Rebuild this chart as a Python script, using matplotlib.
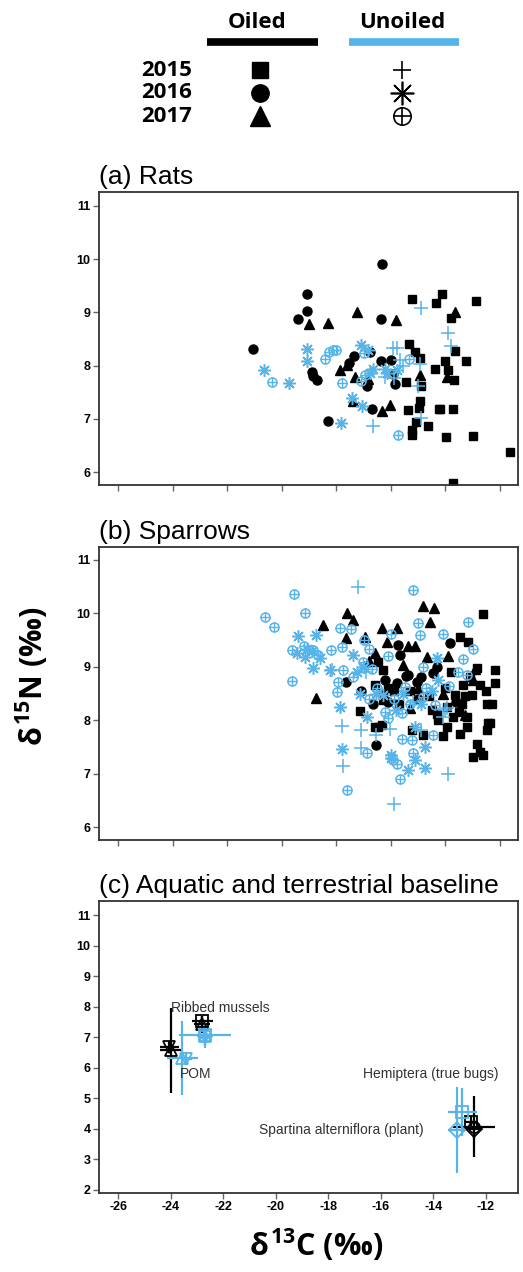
import numpy as np
import matplotlib.pyplot as plt

plt.rcParams['font.family'] = ['Liberation Sans', 'DejaVu Sans']
plt.rcParams['mathtext.fontset'] = 'custom'
plt.rcParams['mathtext.rm'] = 'Open Sans:bold'
plt.rcParams['mathtext.it'] = 'Open Sans:bold'
plt.rcParams['mathtext.bf'] = 'Open Sans:bold'

oil_col = 'black'
unoil_col = '#56B4E9'

# ---- (a) Rats ----
rats_oil15_x = [-15.22, -14.12, -14.33, -12.88, -13.81, -15.35, -15.12, -14.94, -13.65, -13.25,
                -14.02, -14.39, -13.90, -13.68, -15.43, -14.88, -14.94, -14.97, -15.38, -14.24,
                -13.74, -15.09, -14.63, -15.24, -15.24, -13.99, -12.98, -11.64, -13.71, -14.20]
rats_oil15_y = [9.26, 9.34, 9.17, 9.22, 8.89, 8.41, 8.26, 8.14, 8.28, 8.08,
                8.08, 7.94, 7.92, 7.74, 7.70, 7.61, 7.34, 7.20, 7.16, 7.19,
                7.19, 6.95, 6.87, 6.79, 6.70, 6.67, 6.68, 6.38, 5.79, 7.18]
rats_oil16_x = [-21.07, -19.06, -19.06, -19.39, -16.31, -16.37, -18.91, -18.85, -18.70, -18.32,
                -16.68, -16.88, -16.37, -15.98, -15.85, -17.35, -17.55, -16.75, -15.92]
rats_oil16_y = [8.31, 9.34, 9.03, 8.88, 9.91, 8.88, 7.88, 7.80, 7.74, 6.96,
                7.19, 7.62, 8.08, 8.11, 7.65, 8.18, 8.05, 8.25, 7.84]
rats_oil17_x = [-19.00, -18.29, -17.26, -15.82, -13.65, -17.32, -16.04, -16.34, -14.94, -17.87,
                -13.96, -17.38, -17.60, -16.85]
rats_oil17_y = [8.78, 8.81, 9.01, 8.86, 9.01, 7.79, 7.26, 7.14, 7.83, 7.92,
                7.79, 7.33, 8.02, 7.75]
rats_un15_x = [-14.88, -13.90, -13.78, -15.91, -15.77, -15.67, -14.94, -15.00, -14.88, -16.67,
               -16.22, -15.90, -15.55]
rats_un15_y = [9.09, 8.61, 8.36, 8.33, 8.33, 8.11, 8.03, 7.61, 7.01, 6.87,
               7.79, 7.76, 8.00]
rats_un16_x = [-20.66, -19.75, -19.06, -19.06, -17.83, -17.41, -17.05, -17.08, -16.77, -16.65,
               -16.22, -16.16, -15.79, -16.83]
rats_un16_y = [7.92, 7.68, 8.31, 8.08, 6.92, 7.39, 7.25, 8.39, 7.86, 7.94,
               7.94, 7.86, 7.92, 8.29]
rats_un17_x = [-20.35, -18.40, -18.26, -18.12, -18.00, -17.81, -17.00, -17.08, -15.33, -15.73,
               -16.96]
rats_un17_y = [7.69, 8.12, 8.25, 8.29, 8.29, 7.67, 8.23, 7.72, 8.12, 6.69,
               7.82]

# ---- (b) Sparrows ----
spar_oil15_x = [-12.61, -13.47, -13.16, -12.86, -12.19, -12.19, -12.74, -13.10, -13.35, -13.65,
                -13.04, -12.49, -13.41, -13.96, -13.71, -13.22, -14.26, -13.96, -13.22, -12.43,
                -12.49, -13.47, -12.86, -12.74, -12.98, -12.61, -16.59, -16.34, -15.24, -14.81,
                -14.32, -16.28, -16.46, -16.28, -17.14, -16.47, -16.10, -15.70, -15.30, -14.60,
                -14.00, -13.80, -12.50, -12.30, -13.50, -14.10, -12.35, -16.60, -16.30, -15.90,
                -14.50, -13.30]
spar_oil15_y = [9.99, 9.56, 9.47, 8.97, 8.94, 8.69, 8.66, 8.81, 8.66, 8.47,
                8.47, 8.31, 8.31, 8.25, 8.06, 8.06, 8.00, 7.88, 7.88, 7.94,
                7.81, 7.75, 7.56, 7.41, 7.31, 7.35, 7.88, 7.91, 7.81, 7.72,
                8.12, 8.94, 9.09, 8.37, 8.18, 7.88, 8.60, 8.30, 8.55, 8.45,
                8.60, 8.90, 8.55, 8.30, 8.15, 7.70, 7.95, 8.65, 8.50, 8.55,
                8.20, 8.45]
spar_oil16_x = [-17.63, -16.53, -15.73, -15.67, -15.43, -15.79, -13.84, -14.45, -15.36, -14.88,
                -15.06, -16.10, -16.65, -17.10, -16.20, -15.00, -14.30, -13.60]
spar_oil16_y = [8.72, 7.54, 9.41, 9.22, 8.83, 8.70, 9.45, 8.89, 8.84, 8.81,
                8.72, 8.34, 8.31, 8.55, 8.75, 8.40, 9.00, 8.35]
spar_oil17_x = [-18.48, -17.60, -17.38, -17.63, -18.73, -14.81, -14.42, -14.55, -16.34, -15.79,
                -16.16, -15.36, -15.12, -16.59, -16.95, -15.55, -14.69, -13.90, -13.29, -15.30,
                -12.90, -15.00, -16.80, -14.10, -13.00]
spar_oil17_y = [9.78, 10.01, 9.88, 9.53, 8.41, 10.14, 10.09, 9.84, 9.73, 9.73,
                9.47, 9.38, 9.38, 9.25, 9.56, 9.04, 9.18, 9.20, 8.09, 8.22,
                8.95, 8.60, 9.10, 8.50, 8.75]
spar_un15_x = [-17.20, -17.81, -17.08, -17.08, -17.75, -15.88, -13.92, -16.53, -16.04, -14.02,
               -14.08, -14.88, -18.17, -16.90, -15.20, -13.96]
spar_un15_y = [10.50, 7.89, 7.81, 7.49, 7.14, 6.44, 6.99, 7.72, 7.84, 8.19,
               8.06, 7.81, 8.94, 8.90, 8.35, 8.22]
spar_un16_x = [-19.42, -18.75, -19.09, -18.85, -19.15, -18.60, -18.24, -17.87, -17.81, -17.38,
               -17.26, -17.14, -16.89, -14.32, -14.26, -16.28, -15.12, -14.75, -15.98, -15.36,
               -14.75, -15.12, -15.55, -16.53, -19.44, -18.90, -17.00, -15.80, -14.90, -14.50,
               -16.00]
spar_un16_y = [9.58, 9.59, 9.34, 8.98, 9.19, 9.16, 8.94, 8.25, 7.47, 9.22,
               8.91, 8.50, 8.06, 9.16, 8.75, 8.47, 7.88, 7.50, 7.35, 7.07,
               7.10, 7.25, 8.50, 8.50, 9.25, 9.30, 9.00, 8.20, 8.30, 8.55,
               7.30]
spar_un17_x = [-20.60, -20.29, -19.54, -19.15, -19.64, -19.19, -19.64, -17.87, -17.47, -18.21,
               -17.81, -18.66, -18.85, -17.75, -17.93, -17.97, -16.99, -16.81, -17.01, -17.38,
               -16.89, -17.62, -15.18, -15.00, -14.94, -14.10, -13.16, -13.00, -13.37, -13.53,
               -13.22, -13.86, -15.98, -16.10, -14.81, -15.49, -14.81, -14.39, -16.22, -15.61,
               -14.45, -15.24, -15.18, -15.91, -15.79, -15.67, -16.70, -16.50, -16.10, -15.30,
               -14.70, -16.80, -15.90, -15.60]
spar_un17_y = [9.94, 9.75, 10.37, 10.00, 9.32, 9.39, 8.74, 9.72, 9.71, 9.31,
               9.37, 9.22, 9.31, 8.94, 8.72, 8.53, 9.50, 9.34, 9.09, 8.81,
               7.38, 6.70, 10.44, 9.81, 9.59, 9.61, 9.84, 9.33, 9.14, 8.91,
               8.84, 8.64, 9.62, 9.20, 9.00, 8.63, 8.44, 8.28, 8.16, 8.13,
               7.72, 7.63, 7.38, 7.25, 7.19, 6.91, 8.95, 8.60, 8.05, 8.30,
               8.60, 8.40, 8.40, 7.65]

# ---- (c) baselines: mean, sd ----
base_x    = [-24.00, -24.05, -23.55, -23.40, -22.80, -22.80, -22.70, -22.70, -22.70,
             -12.55, -12.45, -12.45, -12.90, -13.10]
base_y    = [6.57, 6.68, 6.32, 6.30, 7.52, 7.43, 7.07, 7.05, 7.00,
             4.22, 4.07, 3.98, 4.55, 3.97]
base_xerr = [0.42, 0.35, 0.60, 0.20, 0.40, 0.30, 1.00, 0.30, 0.25,
             0.25, 0.80, 0.30, 0.55, 0.35]
base_yerr = [1.39, 0.20, 1.22, 0.20, 0.18, 0.28, 0.42, 0.30, 0.25,
             0.20, 1.00, 0.30, 0.78, 1.40]
base_oiled = [1, 1, 0, 0, 1, 1, 0, 0, 0, 1, 1, 1, 0, 0]
base_mark = ['^', 'v', '^', 'v', 's', '^', 's', '^', 'v', 's', 'o', 'D', 's', 'D']

base_labels = ['Ribbed mussels', 'POM', 'Hemiptera (true bugs)', 'Spartina alterniflora (plant)']
base_lab_x = [-23.99, -23.65, -16.66, -20.65]
base_lab_y = [7.97, 5.80, 5.78, 3.97]

fig = plt.figure(figsize=(5.23, 12.72), dpi=100)
W, H = 523.0, 1272.0
ax_a = fig.add_axes([99 / W, 1 - 485 / H, 419 / W, 293 / H])
ax_b = fig.add_axes([99 / W, 1 - 840 / H, 419 / W, 293 / H])
ax_c = fig.add_axes([99 / W, 1 - 1193 / H, 419 / W, 292 / H])

xt = np.arange(-26, -11, 2)


def style(ax, title, ylim, yticks, xlim, show_x):
    ax.set_xlim(*xlim)
    ax.set_ylim(*ylim)
    ax.set_xticks(xt)
    ax.set_yticks(yticks)
    ax.set_yticklabels([str(t) for t in yticks], fontweight='bold')
    ax.set_xticklabels([str(t) for t in xt], fontweight='bold')
    ax.tick_params(direction='out', length=4, width=1, color='#666666',
                   labelsize=9, pad=2, labelbottom=show_x)
    for s in ax.spines.values():
        s.set_color('#333333')
        s.set_linewidth(1.3)
    ax.set_title(title, loc='left', fontsize=19, pad=6)


def scatter_panel(ax, o15, o16, o17, u15, u16, u17):
    ax.plot(o15[0], o15[1], ls='', marker='s', ms=6, color=oil_col, mec=oil_col)
    ax.plot(o16[0], o16[1], ls='', marker='o', ms=6.5, color=oil_col, mec=oil_col)
    ax.plot(o17[0], o17[1], ls='', marker='^', ms=7, color=oil_col, mec=oil_col)
    ax.plot(u15[0], u15[1], ls='', marker='+', ms=10, mew=1.1, color=unoil_col)
    ax.plot(u16[0], u16[1], ls='', marker=(8, 2, 0), ms=9, mew=1.1, color=unoil_col)
    ax.plot(u17[0], u17[1], ls='', marker='o', ms=6.5, mfc='none', mew=1.1, color=unoil_col)
    ax.plot(u17[0], u17[1], ls='', marker='+', ms=6.5, mew=1.0, color=unoil_col)


scatter_panel(ax_a, (rats_oil15_x, rats_oil15_y), (rats_oil16_x, rats_oil16_y),
              (rats_oil17_x, rats_oil17_y), (rats_un15_x, rats_un15_y),
              (rats_un16_x, rats_un16_y), (rats_un17_x, rats_un17_y))
scatter_panel(ax_b, (spar_oil15_x, spar_oil15_y), (spar_oil16_x, spar_oil16_y),
              (spar_oil17_x, spar_oil17_y), (spar_un15_x, spar_un15_y),
              (spar_un16_x, spar_un16_y), (spar_un17_x, spar_un17_y))

for i in range(len(base_x)):
    c = oil_col if base_oiled[i] else unoil_col
    ax_c.errorbar(base_x[i], base_y[i], xerr=base_xerr[i], yerr=base_yerr[i],
                  fmt=base_mark[i], ms=8, mfc='none', mec=c, mew=1.3,
                  ecolor=c, elinewidth=1.6, capsize=0)
for lab, lx, ly in zip(base_labels, base_lab_x, base_lab_y):
    ax_c.text(lx, ly, lab, fontsize=10, color='#333333', ha='left', va='center')

style(ax_a, '(a) Rats', (5.76, 11.26), list(range(6, 12)), (-26.70, -11.34), False)
style(ax_b, '(b) Sparrows', (5.76, 11.24), list(range(6, 12)), (-26.70, -11.34), False)
style(ax_c, '(c) Aquatic and terrestrial baseline', (1.9, 11.46), list(range(2, 12)),
      (-26.73, -10.77), True)

# axis labels
fig.text(32 / W, 1 - 676 / H, r'$\delta^{15}$N (‰)', rotation=90, fontsize=22,
         fontweight='bold', family=['Open Sans', 'DejaVu Sans'], ha='center', va='center')
fig.text(316 / W, 1 - 1245 / H, r'$\delta^{13}$C (‰)', fontsize=22,
         fontweight='bold', family=['Open Sans', 'DejaVu Sans'], ha='center', va='center')

# legend block at the top (pixel coordinates)
leg = fig.add_axes([0, 1 - 135 / H, 1, 135 / H])
leg.set_xlim(0, W)
leg.set_ylim(135, 0)
leg.axis('off')
lf = dict(fontweight='bold', family=['Open Sans', 'DejaVu Sans'], fontsize=16)
leg.text(257, 22, 'Oiled', ha='center', va='center', **lf)
leg.text(402, 22, 'Unoiled', ha='center', va='center', **lf)
leg.plot([207, 318], [42, 42], color=oil_col, lw=5.5, solid_capstyle='butt')
leg.plot([349, 459], [42, 42], color=unoil_col, lw=5.5, solid_capstyle='butt')
years = ['2015', '2016', '2017']
for yr, yy in zip(years, [70, 93, 117]):
    leg.text(192, yy, yr, ha='right', va='center', **lf)
leg.plot(260, 70, marker='s', ms=12, color='black')
leg.plot(260, 93, marker='o', ms=12.5, color='black')
leg.plot(260, 116, marker='^', ms=14, color='black')
leg.plot(402, 70, marker='+', ms=13, mew=1.2, color='black')
leg.plot(402, 93, marker=(8, 2, 0), ms=17, mew=1.2, color='black')
leg.plot(402, 116, marker='o', ms=12.5, mfc='none', mew=1.2, color='black')
leg.plot(402, 116, marker='+', ms=12.5, mew=1.2, color='black')

plt.savefig('out.png', dpi=100)
